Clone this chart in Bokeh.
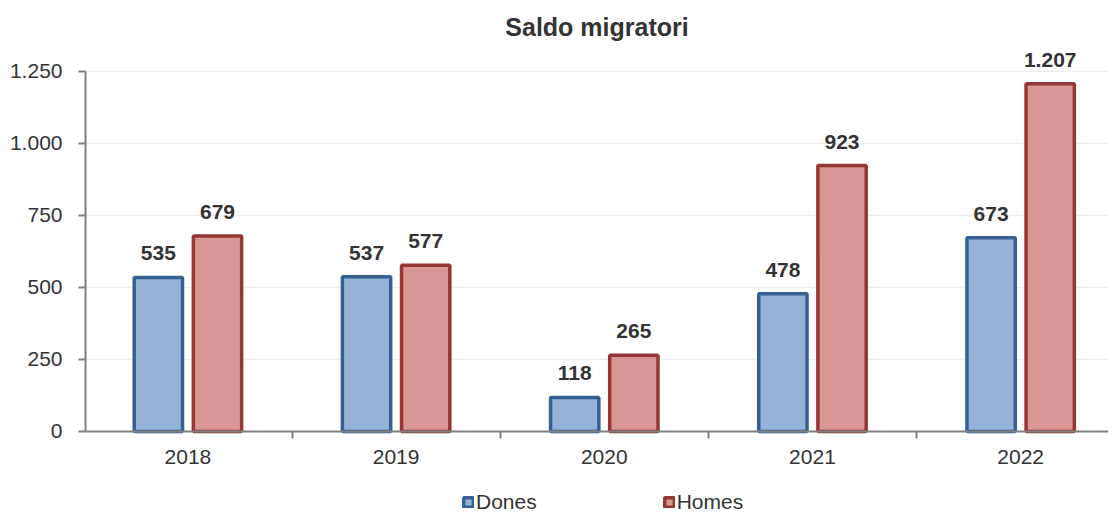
from bokeh.plotting import figure
from bokeh.models import ColumnDataSource, FixedTicker, Legend, LegendItem, Range1d
from bokeh.core.properties import value
from bokeh.embed import file_html
from bokeh.resources import INLINE

years = ["2018", "2019", "2020", "2021", "2022"]
dones = [535, 537, 118, 478, 673]
homes = [679, 577, 265, 923, 1207]
yticks = [0, 250, 500, 750, 1000, 1250]

def fmt(v):
    return f"{v:,}".replace(",", ".")

xc = [i + 0.5 for i in range(len(years))]
off = 0.142
src_d = ColumnDataSource(dict(x=[c - off for c in xc], y=dones, lbl=[fmt(v) for v in dones]))
src_h = ColumnDataSource(dict(x=[c + off for c in xc], y=homes, lbl=[fmt(v) for v in homes]))

FONT = "Liberation Sans"
p = figure(width=1110, height=512, output_backend="svg", toolbar_location=None,
           x_range=Range1d(0.008, 4.922), y_range=Range1d(-281.25, 1340),
           min_border_left=85, min_border_right=2, min_border_top=45, min_border_bottom=0)
p.title.text = "Saldo migratori"
p.title.align = "center"
p.title.text_font = FONT
p.title.text_font_size = "25px"
p.title.text_font_style = "bold"
p.title.text_color = "#333333"
p.title.offset = 0
p.outline_line_color = None
p.background_fill_color = "white"

bw = 0.232
rd = p.vbar(x="x", top="y", width=bw, source=src_d, fill_color="#95B3D7",
            line_color="#376092", line_width=3.5)
rh = p.vbar(x="x", top="y", width=bw, source=src_h, fill_color="#D99694",
            line_color="#953735", line_width=3.5)

for s in (src_d, src_h):
    p.text(x="x", y="y", text="lbl", source=s, text_align="center", text_baseline="alphabetic",
           y_offset=-24, text_font=value(FONT), text_font_style="bold",
           text_font_size="21px", text_color="#333333")

# x axis
xa = p.xaxis[0]
xa.fixed_location = 0
xa.ticker = FixedTicker(ticks=xc, minor_ticks=[1, 2, 3, 4])
xa.major_label_overrides = {c: y for c, y in zip(xc, years)}
xa.major_tick_line_color = None
xa.minor_tick_line_color = "#808080"
xa.minor_tick_line_width = 2
xa.minor_tick_out = 7
xa.minor_tick_in = 0
xa.axis_line_color = "#808080"
xa.axis_line_width = 2
xa.major_label_text_font = FONT
xa.major_label_text_font_size = "21px"
xa.major_label_text_color = "#333333"
xa.major_label_standoff = 12

ya = p.yaxis[0]
ya.ticker = FixedTicker(ticks=yticks)
ya.bounds = (0, 1250)
ya.major_label_overrides = {v: fmt(v) for v in yticks}
ya.axis_line_color = "#808080"
ya.axis_line_width = 2
ya.major_tick_line_color = "#808080"
ya.major_tick_line_width = 2
ya.major_tick_out = 7
ya.major_tick_in = 0
ya.minor_tick_line_color = None
ya.major_label_text_font = FONT
ya.major_label_text_font_size = "21px"
ya.major_label_text_color = "#333333"
ya.major_label_standoff = 16

p.xgrid.grid_line_color = None
p.ygrid.ticker = FixedTicker(ticks=yticks[1:])
p.ygrid.grid_line_color = "#EDEDED"
p.ygrid.grid_line_width = 1.5

legend = Legend(items=[LegendItem(label="Dones", renderers=[rd]),
                       LegendItem(label="Homes", renderers=[rh])],
                orientation="horizontal", location=(377, -2),
                border_line_color=None, background_fill_alpha=0,
                label_text_font=FONT, label_text_font_size="21px",
                label_text_color="#333333", glyph_width=12, glyph_height=12,
                spacing=126, label_standoff=2, padding=0, margin=0)
p.add_layout(legend, "center")

open("out.html", "w").write(file_html(p, INLINE))
